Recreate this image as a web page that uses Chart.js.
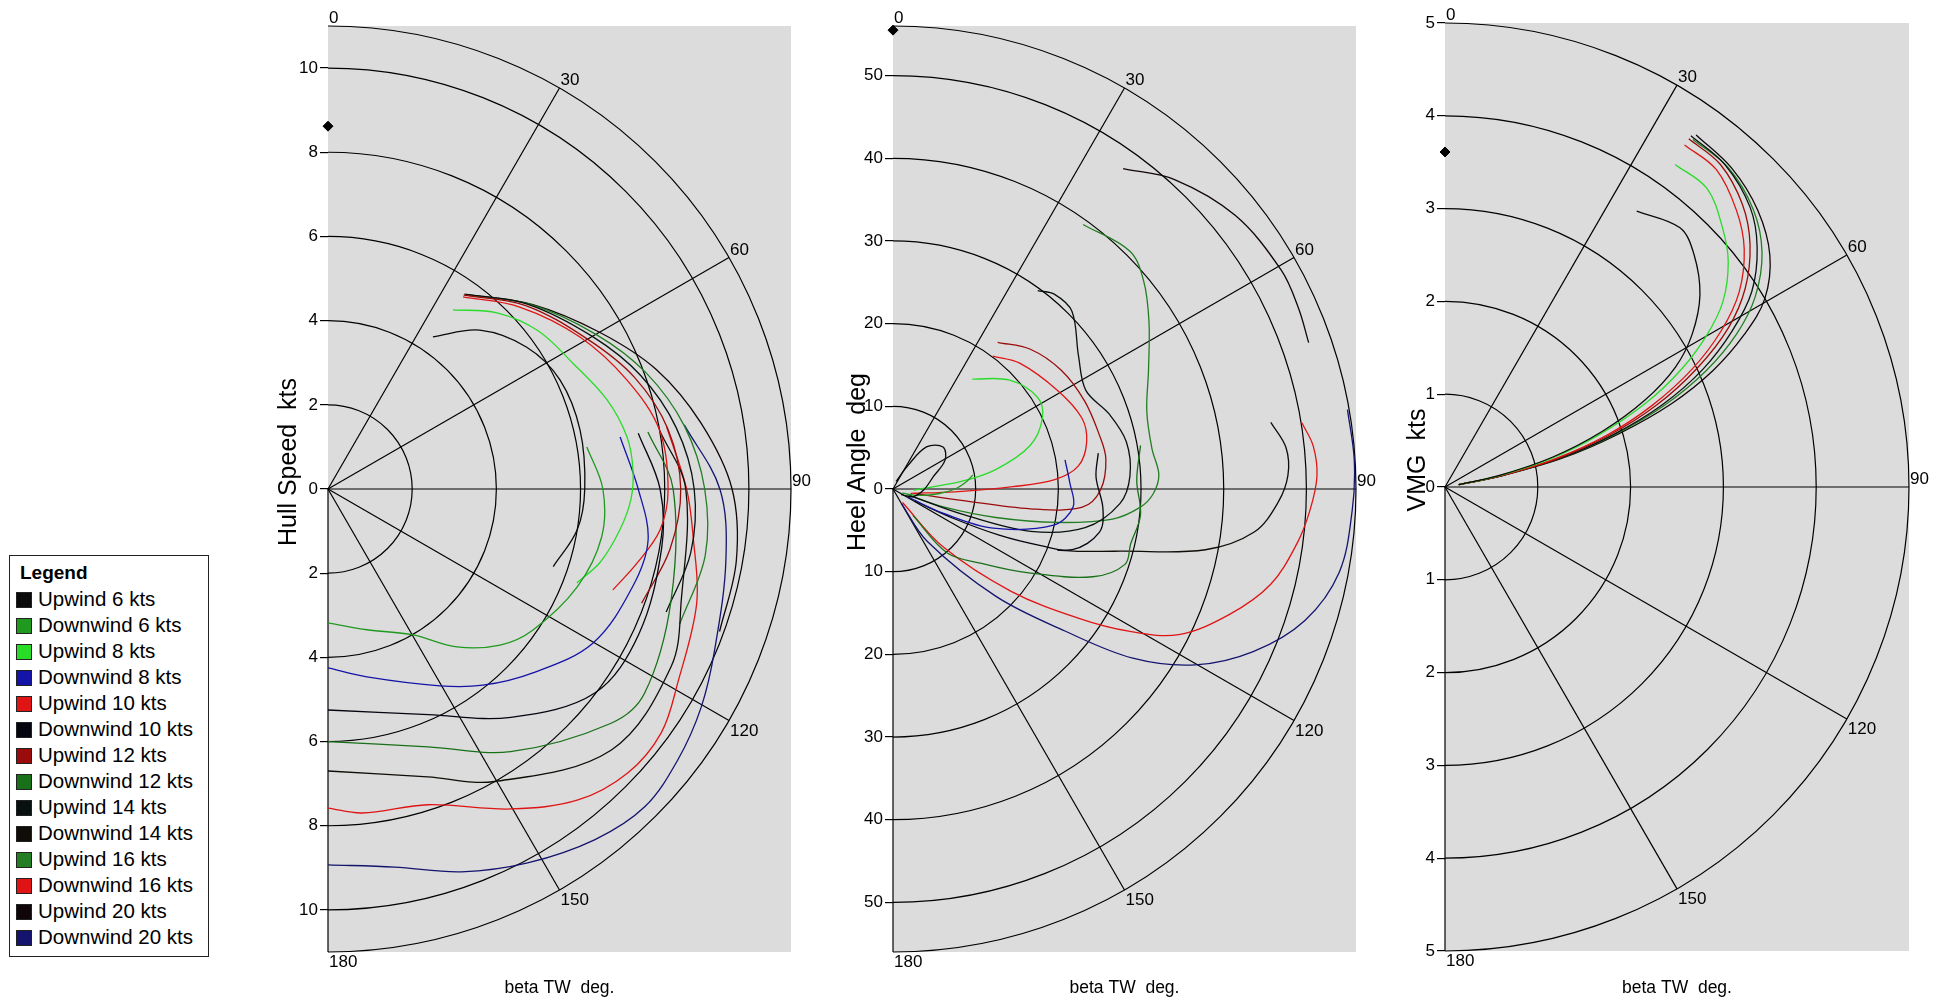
<!DOCTYPE html>
<html>
<head>
<meta charset="utf-8">
<script src="https://cdn.jsdelivr.net/npm/chart.js@4.4.0/dist/chart.umd.min.js"></script>
<style>
  html, body { margin: 0; padding: 0; background: #fff; }
  body { width: 1944px; height: 1003px; position: relative; overflow: hidden; font-family: "Liberation Sans", Arial, sans-serif; }
  canvas.polar { position: absolute; top: 0; }
  #legend { position: absolute; left: 9px; top: 555px; width: 200px; height: 402px; box-sizing: border-box; border: 1.5px solid #222; background: #fff; }
  #legend .title { position: absolute; left: 10px; top: 4px; font-weight: bold; font-size: 19px; line-height: 26px; }
  #legend .row { position: absolute; left: 6px; height: 26px; line-height: 26px; font-size: 20.5px; white-space: nowrap; }
  #legend .sw { display: inline-block; width: 14px; height: 14px; border: 1px solid #222; vertical-align: -2px; margin-right: 6px; }
</style>
</head>
<body>
<canvas id="hullChart" class="polar"></canvas>
<canvas id="heelChart" class="polar"></canvas>
<canvas id="vmgChart" class="polar"></canvas>
<div id="legend"></div>

<script>
// ---- series / legend ----
const seriesNames = ["Upwind 6 kts", "Downwind 6 kts", "Upwind 8 kts", "Downwind 8 kts", "Upwind 10 kts", "Downwind 10 kts",
  "Upwind 12 kts", "Downwind 12 kts", "Upwind 14 kts", "Downwind 14 kts", "Upwind 16 kts", "Downwind 16 kts",
  "Upwind 20 kts", "Downwind 20 kts"];
const seriesColors = ["#0a0a0a", "#1f9a1f", "#28dc28", "#1414a8", "#e01414", "#05050f",
  "#9a0c0c", "#187018", "#081010", "#100c08", "#237e23", "#e01414", "#100508", "#14146e"];

// ---- axes ----
const angleTicks = [0, 30, 60, 90, 120, 150, 180];
const spokeAngles = [30, 60, 90, 120, 150, 180];
const hullTicks = [-10, -8, -6, -4, -2, 0, 2, 4, 6, 8, 10];
const hullRings = [2, 4, 6, 8, 10];
const hullMax = 11;
const heelTicks = [-50, -40, -30, -20, -10, 0, 10, 20, 30, 40, 50];
const heelRings = [10, 20, 30, 40, 50];
const heelMax = 56;
const vmgTicks = [-5, -4, -3, -2, -1, 0, 1, 2, 3, 4, 5];
const vmgRings = [1, 2, 3, 4];
const vmgMax = 5;

// ---- hull speed (kts) : [beta TW deg, value] ----
const hullUp6  = [[34.6,4.39],[43.7,5.22],[54.5,5.8],[64.8,6.09],[76.8,6.15],[90,6.1],[99.3,6.0],[109,5.66]];
const hullDw6  = [[180,3.18],[164.5,3.47],[149.8,4.01],[140.8,4.84],[132.2,5.52],[124.5,5.91],[111.5,6.36],[100,6.6],[90,6.53],[80.8,6.23]];
const hullUp8  = [[34.9,5.19],[43.8,5.8],[53,6.25],[62.8,6.54],[72.3,6.96],[80.1,7.21],[86.4,7.26],[92,7.2],[98,7.0],[105,6.7],[110.7,6.32]];
const hullDw8  = [[180,4.25],[168.3,4.56],[150.4,5.38],[141.7,5.94],[131.9,6.54],[120.2,7.28],[107.8,7.6],[99,7.7],[90,7.37],[79.9,7.05]];
const hullUp10 = [[35.1,5.58],[46.5,6.28],[58.9,6.99],[70,7.56],[79.9,8.0],[90,8.08],[97,7.95],[103.5,7.55],[109.5,7.18]];
const hullDw10 = [[180,5.25],[156,5.87],[141.3,6.95],[127.4,7.98],[115,8.15],[100,8.05],[90,7.89],[79.8,7.49]];
const hullUp12 = [[35,5.62],[47,6.4],[60,7.12],[70,7.75],[80,8.2],[90,8.38],[100,8.25],[110,7.93]];
const hullDw12 = [[180,6.0],[158.8,6.57],[145.2,7.6],[129.6,8.73],[122.8,8.95],[108,8.57],[90,8.2],[79.9,7.72]];
const hullUp14 = [[35,5.65],[47,6.45],[60,7.25],[70,7.9],[80,8.4],[90,8.7],[100,8.75],[110,8.55]];
const hullDw14 = [[180,6.7],[160.9,7.24],[150.3,8.0],[132.7,9.15],[117.4,9.18],[107.5,8.8],[90,8.5],[80,8.0]];
const hullUp16 = [[35.5,5.66],[47.5,6.5],[60,7.35],[70,8.05],[80,8.6],[90,8.95],[100,9.1],[111,8.95]];
const hullDw16 = [[180,7.58],[174,7.74],[162.4,7.87],[150.2,8.76],[141.2,9.48],[133.4,9.81],[126.2,9.81],[119,9.5],[107.2,9.17],[97.5,8.75],[90,8.52],[79.6,8.18]];
const hullUp20 = [[36,5.7],[48,6.55],[60,7.45],[70,8.3],[80,9.0],[90,9.6],[100,9.85],[110,9.9]];
const hullDw20 = [[180,8.93],[170,9.12],[160.8,9.63],[151.9,10.07],[142.7,10.47],[135.1,10.66],[127.7,10.51],[120.3,10.27],[112.6,9.95],[100,9.6],[90,9.31],[79.8,8.6]];
const hullMarker = [0, 8.62];

// ---- heel angle (deg) ----
const heelUp6  = [[22,1.0],[32.5,3.4],[38.5,6.5],[50,7.9],[61,7.2],[73,5.1],[92,3.7],[111,2.6],[125,1.2]];
const heelDw6  = [[80,9.8],[84,9.0],[90,7.5],[96,5.5],[104,3.2],[115,1.2]];
const heelUp8  = [[35.8,16.4],[47,19.3],[57.6,20.7],[64.6,20.0],[72.4,17.4],[79.2,12.7],[83.7,8.3],[92.9,2.5]];
const heelDw8  = [[80.4,21.1],[88,21.4],[95.6,21.9],[102.7,19.9],[111.4,13.0],[115.8,6.8],[118,2]];
const heelUp10 = [[36.9,20.1],[45.2,21.6],[59.1,23.2],[69.4,24.4],[76.4,24.1],[82.9,22.6],[86.7,19.6],[88.9,14.5],[92.6,7.5],[104,2.2]];
const heelDw10 = [[80.1,25.2],[86.7,24.6],[95.3,25.5],[101.9,25.5],[108.7,22.9],[111,19],[113.5,14],[116,8],[119,3]];
const heelUp12 = [[35.5,21.8],[44.5,23.7],[54.7,24.9],[65.3,25.5],[75.3,25.8],[82,26.0],[90.3,25.1],[95.5,23.0],[98.2,16.8],[99.4,8.4],[102,2.6]];
const heelDw12 = [[80,30.4],[88,29.5],[96,30.1],[103,29.5],[108,29.5],[113.7,26.4],[122,19.1],[130,14.0],[139.8,10.1],[143,4]];
const heelUp14 = [[36.1,29.7],[39.7,30.6],[45.2,30.5],[54.4,27.6],[62.9,26.2],[71,27.7],[78.6,28.8],[86.9,28.7],[93.7,27.5],[101.4,23.7],[107.1,17.4],[110,8.9],[111,2.2]];
const heelDw14 = [[80,46.4],[84,47.8],[88,47.8],[92,46.6],[96.8,44],[101,38.5],[105.3,28.5],[108.4,23.9],[110.4,21.2]];
const heelUp16 = [[35.7,39.4],[44.9,40.6],[50.3,39.4],[56.8,37.0],[65,34.1],[73,32.1],[81.2,31.7],[86.9,32.2],[91,31.5],[94.2,30.0],[97.8,26.8],[101.5,20.3],[105.5,12.9],[109.5,6.6],[112,1.8]];
const heelDw16 = [[80.8,50.1],[84.2,51.1],[88.3,51.3],[92.9,50.5],[97.7,49.3],[104.2,47.1],[110.5,43.4],[117,38.8],[121.1,33.3],[124.9,27.3],[130.9,18.9],[139.1,9.3],[145,2]];
const heelUp20 = [[35.7,47.7],[42.3,50.6],[51.4,53.0],[60.6,53.9],[66,53.7],[70.6,53.3]];
const heelDw20 = [[80.1,55.8],[86.4,55.9],[92.7,55.6],[100.6,54.9],[107.7,52.3],[114.3,47.8],[120.2,42.3],[125.2,35.5],[129.6,26.9],[136.2,18.0],[146.8,7.6],[150,2]];
const heelMarker = [0, 55.5];

// ---- VMG (kts), upwind only ----
const vmgUp6  = [[34.8,3.62],[42.2,3.77],[47,3.67],[53,3.44],[58.3,3.13],[62.5,2.8],[66.5,2.35],[70.5,1.8],[74.5,1.2],[78.2,0.58],[80.5,0.15]];
const vmgUp8  = [[35.5,4.27],[41.3,4.28],[47,4.09],[51.5,3.9],[56.3,3.6],[60,3.25],[63.5,2.85],[67.3,2.35],[71.3,1.75],[75,1.18],[78.4,0.58],[80.5,0.15]];
const vmgUp10 = [[35,4.5],[40.5,4.5],[46.5,4.33],[51.5,4.12],[56.5,3.8],[60.5,3.42],[64.5,2.95],[68.5,2.4],[72.2,1.84],[75.6,1.23],[78.6,0.6],[80.5,0.15]];
const vmgUp12 = [[35,4.58],[40.5,4.57],[46.5,4.42],[51.5,4.2],[56.5,3.88],[60.7,3.5],[64.8,3.0],[68.8,2.45],[72.4,1.87],[75.8,1.25],[78.7,0.6],[80.5,0.15]];
const vmgUp14 = [[35,4.62],[41,4.6],[47.5,4.46],[52.5,4.24],[57.5,3.92],[61.5,3.52],[65.5,3.05],[69.3,2.5],[72.7,1.9],[76,1.27],[78.8,0.6],[80.5,0.15]];
const vmgUp16 = [[35.5,4.6],[41.5,4.6],[48,4.47],[53.5,4.25],[58.5,3.92],[62.3,3.55],[66,3.08],[69.6,2.52],[72.8,1.92],[76,1.28],[78.8,0.6],[80.5,0.15]];
const vmgUp20 = [[35.5,4.66],[42,4.62],[48.5,4.5],[54.5,4.3],[59.5,4.0],[63,3.62],[66.5,3.15],[69.8,2.6],[73,1.95],[76.2,1.3],[79,0.6],[80.5,0.15]];
const vmgMarker = [0, 3.61];

const FONT = "'Liberation Sans', Arial, sans-serif";

// polar [deg, r] -> cartesian for the linear x/y scales (0 deg up, clockwise)
const toXY = arr => arr.map(([a, r]) => ({ x: r * Math.sin(a * Math.PI / 180), y: r * Math.cos(a * Math.PI / 180) }));

// gray half-disc background, rings, spokes, angle labels and the rotated value title
const polarGrid = {
  id: "polarGrid",
  beforeDatasetsDraw(chart, args, o) {
    const { ctx, chartArea: a, scales: { x, y } } = chart;
    const cx = x.getPixelForValue(0), cy = y.getPixelForValue(0);
    const R = x.getPixelForValue(o.rMax) - cx;
    ctx.save();
    ctx.fillStyle = "#dcdcdc";
    ctx.fillRect(a.left, a.top, a.right - a.left, a.bottom - a.top);
    ctx.strokeStyle = "#000";
    ctx.lineWidth = 1.2;
    o.rings.concat([o.rMax]).forEach(r => {
      ctx.beginPath();
      ctx.arc(cx, cy, x.getPixelForValue(r) - cx, -Math.PI / 2, Math.PI / 2);
      ctx.stroke();
    });
    spokeAngles.forEach(d => {
      const t = d * Math.PI / 180;
      ctx.beginPath();
      ctx.moveTo(cx, cy);
      ctx.lineTo(cx + R * Math.sin(t), cy - R * Math.cos(t));
      ctx.stroke();
    });
    ctx.restore();
  },
  afterDraw(chart, args, o) {
    const { ctx, scales: { x, y } } = chart;
    const cx = x.getPixelForValue(0), cy = y.getPixelForValue(0);
    const R = x.getPixelForValue(o.rMax) - cx;
    ctx.save();
    ctx.fillStyle = "#000";
    ctx.font = "17px " + FONT;
    ctx.textAlign = "left";
    angleTicks.forEach(d => {
      const t = d * Math.PI / 180;
      ctx.textBaseline = d <= 90 ? "bottom" : "top";
      ctx.fillText(String(d), cx + R * Math.sin(t) + 1, cy - R * Math.cos(t) + (d <= 90 ? 1 : 2));
    });
    // value axis title, rotated, sitting a bit above the centre like the original
    ctx.translate(cx - o.titleDx, cy - 27);
    ctx.rotate(-Math.PI / 2);
    ctx.textAlign = "center";
    ctx.textBaseline = "middle";
    ctx.font = "25px " + FONT;
    ctx.fillText(o.title, 0, 0);
    ctx.restore();
  }
};

function makePolar(id, p) {
  const cv = document.getElementById(id);
  const padLeft = 80;
  cv.width = padLeft + p.R + p.padRight;
  cv.height = 1003;
  cv.style.left = (p.originX - padLeft) + "px";

  const datasets = p.series.map((s, i) => s ? {
    label: seriesNames[i],
    data: toXY(s),
    showLine: true,
    pointRadius: 0,
    borderColor: seriesColors[i],
    borderWidth: 1.3,
    tension: 0.35
  } : null).filter(Boolean);
  datasets.push({
    label: "marker",
    data: toXY([p.marker]),
    pointStyle: "rectRot",
    pointRadius: 5,
    backgroundColor: "#000",
    borderColor: "#000",
    clip: false
  });

  return new Chart(cv, {
    type: "scatter",
    data: { datasets },
    options: {
      responsive: false,
      animation: false,
      devicePixelRatio: 1,
      layout: { padding: { top: p.originY - p.R, right: p.padRight, bottom: 0, left: 0 } },
      plugins: {
        legend: { display: false },
        tooltip: { enabled: false },
        polarGrid: { rMax: p.rMax, rings: p.rings, title: p.title, titleDx: p.titleDx }
      },
      scales: {
        x: {
          type: "linear", min: 0, max: p.rMax,
          ticks: { display: false },
          grid: { display: false },
          border: { display: false },
          title: { display: true, text: "beta TW  deg.", color: "#000", font: { family: FONT, size: 17.5 }, padding: { top: 0, bottom: 4 } },
          afterFit: s => { s.height = 1003 - (p.originY + p.R); }
        },
        y: {
          type: "linear", min: -p.rMax, max: p.rMax,
          afterBuildTicks: s => { s.ticks = p.ticks.map(v => ({ value: v })); },
          ticks: { autoSkip: false, color: "#000", padding: 2, font: { family: FONT, size: 17 }, callback: v => Math.abs(v) },
          grid: { drawOnChartArea: false, drawTicks: true, tickLength: 8, tickColor: "#000", lineWidth: 1.2 },
          border: { display: false },
          afterFit: s => { s.width = padLeft; }
        }
      }
    },
    plugins: [polarGrid]
  });
}

makePolar("hullChart", {
  originX: 328, originY: 489, R: 463, padRight: 45, titleDx: 39,
  rMax: hullMax, rings: hullRings, ticks: hullTicks, title: "Hull Speed  kts", marker: hullMarker,
  series: [hullUp6, hullDw6, hullUp8, hullDw8, hullUp10, hullDw10, hullUp12, hullDw12, hullUp14, hullDw14, hullUp16, hullDw16, hullUp20, hullDw20]
});
makePolar("heelChart", {
  originX: 893, originY: 489, R: 463, padRight: 45, titleDx: 35,
  rMax: heelMax, rings: heelRings, ticks: heelTicks, title: "Heel Angle  deg", marker: heelMarker,
  series: [heelUp6, heelDw6, heelUp8, heelDw8, heelUp10, heelDw10, heelUp12, heelDw12, heelUp14, heelDw14, heelUp16, heelDw16, heelUp20, heelDw20]
});
makePolar("vmgChart", {
  originX: 1445, originY: 487, R: 464, padRight: 35, titleDx: 27,
  rMax: vmgMax, rings: vmgRings, ticks: vmgTicks, title: "VMG  kts", marker: vmgMarker,
  series: [vmgUp6, null, vmgUp8, null, vmgUp10, null, vmgUp12, null, vmgUp14, null, vmgUp16, null, vmgUp20, null]
});

// legend box
const legend = document.getElementById("legend");
legend.innerHTML = '<div class="title">Legend</div>' + seriesNames.map((n, i) =>
  `<div class="row" style="top:${30 + 26 * i}px"><span class="sw" style="background:${seriesColors[i]}"></span>${n}</div>`
).join("");
</script>
</body>
</html>
